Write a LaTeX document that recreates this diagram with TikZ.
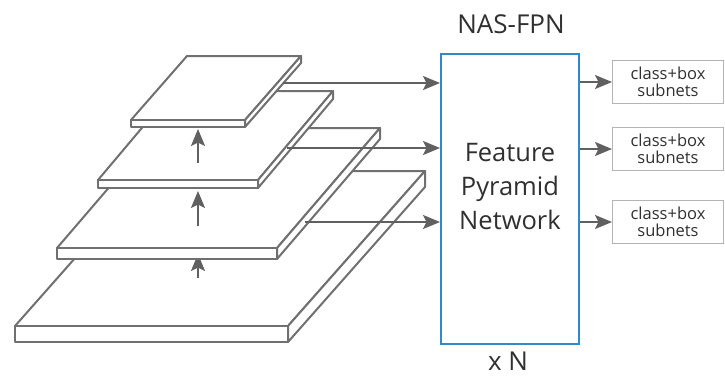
\documentclass[tikz,border=0pt]{standalone}
\usepackage{fontspec}
\setmainfont{Open Sans}
\usetikzlibrary{arrows.meta}
\definecolor{plategray}{HTML}{707070}
\definecolor{arrowgray}{HTML}{606060}
\definecolor{fpnblue}{HTML}{2E8BC7}
\definecolor{boxgray}{HTML}{B4B4B4}
\definecolor{textgray}{HTML}{303030}

% One feature-map slab: front-left x, front-left y, width, depth dx, depth dy, thickness
\newcommand{\featureslab}[6]{%
  \filldraw[plate] (#1,#2) -- ++(#3,0) -- ++(#4,-#5) -- ++(-#3,0) -- cycle;
  \filldraw[plate] (#1,#2) rectangle ++(#3,#6);
  \filldraw[plate] (#1+#3,#2) -- ++(#4,-#5) -- ++(0,#6) -- ++(-#4,#5) -- cycle;
}

\begin{document}
\begin{tikzpicture}[x=1pt,y=-1pt,
  plate/.style={draw=plategray, fill=white, line width=2pt, line join=round},
  flow/.style={draw=arrowgray, line width=1.9pt,
    -{Stealth[length=17pt,width=14pt,inset=3.5pt]}},
  fpnbox/.style={draw=fpnblue, line width=2.4pt, fill=white,
    minimum width=138pt, minimum height=290pt, inner sep=0pt},
  fpntext/.style={align=center, text=textgray, inner sep=0pt,
    font=\fontsize{25.5}{34}\selectfont},
  subnet/.style={draw=boxgray, line width=1pt, minimum width=111pt,
    minimum height=43pt, inner sep=0pt, align=center, text=textgray,
    font=\fontsize{16.5}{17}\selectfont},
  label/.style={text=textgray, font=\fontsize{26}{30}\selectfont, inner sep=0pt}]
\useasboundingbox (0,0) rectangle (725,376);

% pyramid of feature maps, bottom to top, with upward arrows between them
\coordinate (u3a) at (198,278);
\coordinate (u3b) at (198,254);
\coordinate (u2a) at (198,226);
\coordinate (u2b) at (198,191);
\coordinate (u1a) at (198,163);
\coordinate (u1b) at (198,129);

\featureslab{15}{326}{273}{137}{155}{16}
\draw[flow] (u3a) -- (u3b);
\featureslab{57}{248}{220}{103}{120}{11}
\draw[flow] (u2a) -- (u2b);
\featureslab{98}{180}{160}{75}{89}{8}
\draw[flow] (u1a) -- (u1b);
\featureslab{131}{120}{114}{56}{64}{7}

% NAS-FPN block
\node[fpnbox, anchor=north west] (fpn) at (440,53) {};
\node[fpntext] (fpnlabel) at (510,187) {Feature\\Pyramid\\Network};
\node[label] (title) at (511,24) {NAS-FPN};
\node[label] (times) at (508,361) {x N};

% output heads
\node[subnet, anchor=north west] (s1) at (612,60) {class+box\\subnets};
\node[subnet, anchor=north west] (s2) at (612,127) {class+box\\subnets};
\node[subnet, anchor=north west] (s3) at (612,200) {class+box\\subnets};

% feature maps into the block
\coordinate (p1) at (283,83);
\coordinate (p2) at (287,148);
\coordinate (p3) at (305,222);
\draw[flow] (p1) -- (p1 -| fpn.west);
\draw[flow] (p2) -- (p2 -| fpn.west);
\draw[flow] (p3) -- (p3 -| fpn.west);

% block outputs to the heads
\draw[flow] (fpn.east |- s1.west) -- (s1.west);
\draw[flow] (fpn.east |- s2.west) -- (s2.west);
\draw[flow] (fpn.east |- s3.west) -- (s3.west);
\end{tikzpicture}
\end{document}
